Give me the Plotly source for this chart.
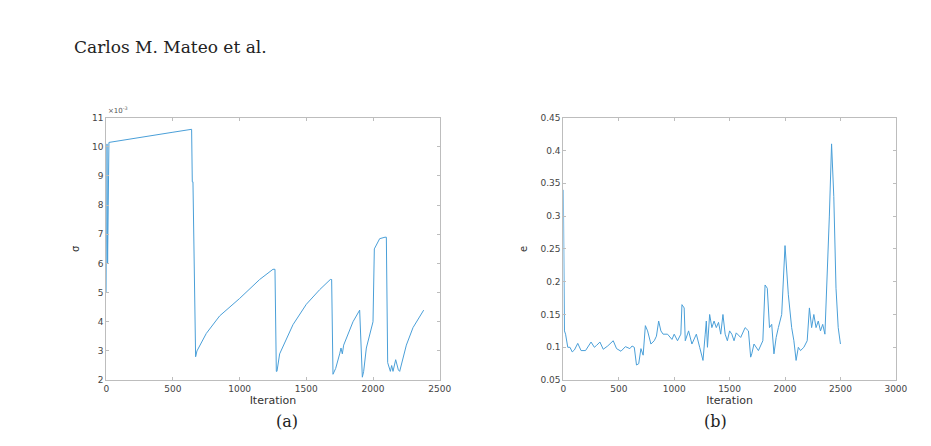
import plotly.graph_objects as go

sigma_iter = [0,5,10,15,20,500,640,645,650,670,680,750,850,1000,1150,1250,1265,1275,1280,1300,1400,1500,1600,1680,1690,1700,1720,1750,1760,1770,1780,1850,1890,1900,1920,1930,1950,2000,2010,2050,2090,2100,2110,2130,2140,2150,2170,2190,2200,2250,2300,2350,2380]
sigma_val = [5,10.1,6,10.1,10.15,10.5,10.6,8.8,8.8,2.8,3.0,3.6,4.2,4.8,5.45,5.8,5.8,2.3,2.3,2.9,3.9,4.6,5.1,5.45,5.45,2.2,2.4,2.9,3.1,2.9,3.2,4.0,4.35,4.4,2.1,2.3,3.1,4.0,6.5,6.85,6.9,6.9,2.6,2.3,2.5,2.3,2.7,2.35,2.3,3.2,3.8,4.2,4.4]

e_iter = [0,5,10,20,40,60,80,100,130,160,200,250,280,300,330,360,400,450,480,520,560,600,620,640,660,680,690,700,720,740,760,790,820,840,860,880,900,940,980,1000,1030,1060,1070,1090,1100,1130,1160,1200,1230,1260,1280,1290,1300,1320,1340,1360,1380,1400,1420,1440,1460,1480,1500,1520,1540,1560,1600,1640,1670,1690,1700,1720,1760,1800,1820,1840,1860,1880,1900,1920,1940,1970,2000,2010,2030,2060,2080,2100,2120,2140,2170,2200,2220,2240,2260,2280,2300,2320,2340,2360,2380,2400,2420,2440,2460,2480,2500]
e_val = [0.34,0.2,0.125,0.12,0.1,0.1,0.093,0.096,0.106,0.095,0.095,0.108,0.1,0.103,0.108,0.097,0.102,0.11,0.098,0.094,0.101,0.098,0.102,0.1,0.073,0.075,0.09,0.098,0.088,0.133,0.125,0.105,0.11,0.117,0.14,0.125,0.12,0.12,0.112,0.12,0.11,0.12,0.165,0.16,0.11,0.125,0.105,0.12,0.1,0.08,0.12,0.14,0.1,0.15,0.13,0.14,0.13,0.138,0.12,0.15,0.12,0.11,0.125,0.12,0.11,0.122,0.115,0.13,0.125,0.085,0.09,0.105,0.095,0.11,0.195,0.19,0.13,0.135,0.09,0.115,0.13,0.15,0.255,0.23,0.18,0.13,0.11,0.08,0.1,0.095,0.1,0.11,0.16,0.13,0.15,0.13,0.14,0.125,0.135,0.12,0.2,0.3,0.41,0.33,0.19,0.13,0.105]

line = dict(color="#4a9fd8", width=1)
fig = go.Figure()
fig.add_trace(go.Scatter(x=sigma_iter, y=sigma_val, mode="lines", line=line, xaxis="x", yaxis="y"))
fig.add_trace(go.Scatter(x=e_iter, y=e_val, mode="lines", line=line, xaxis="x2", yaxis="y2"))

ax = dict(showgrid=False, zeroline=False, showline=True, mirror="ticks", linecolor="#bdbdbd",
          ticks="inside", ticklen=3, tickcolor="#bdbdbd", tickfont=dict(size=9, color="#444"))
fig.update_layout(
    width=931, height=446, margin=dict(l=0, r=0, t=0, b=0), showlegend=False,
    paper_bgcolor="white", plot_bgcolor="white", font=dict(family="DejaVu Sans", color="#333"),
    xaxis=dict(ax, domain=[0.104, 0.468], range=[0, 2500], dtick=500, anchor="y",
               title=dict(text="Iteration", font=dict(size=11), standoff=2)),
    yaxis=dict(ax, domain=[0.158, 0.760], range=[2, 11], dtick=1, anchor="x",
               title=dict(text="σ", font=dict(size=10), standoff=10)),
    xaxis2=dict(ax, domain=[0.603, 0.966], range=[0, 3000], dtick=500, anchor="y2",
                title=dict(text="Iteration", font=dict(size=11), standoff=2)),
    yaxis2=dict(ax, domain=[0.158, 0.760], range=[0.05, 0.45], dtick=0.05, anchor="x2",
                title=dict(text="e", font=dict(size=10), standoff=10)),
    annotations=[
        dict(text="Carlos M. Mateo et al.", x=62/931, y=1-35/446, xref="paper", yref="paper",
             xanchor="left", yanchor="middle", showarrow=False,
             font=dict(family="DejaVu Serif", size=17, color="#222")),
        dict(text="×10<sup>-3</sup>", x=0.104, y=0.762, xref="paper", yref="paper",
             xanchor="left", yanchor="bottom", showarrow=False, font=dict(size=7, color="#555")),
        dict(text="(a)", x=267/931, y=1-430/446, xref="paper", yref="paper", showarrow=False,
             font=dict(family="DejaVu Serif", size=16, color="#222")),
        dict(text="(b)", x=730/931, y=1-430/446, xref="paper", yref="paper", showarrow=False,
             font=dict(family="DejaVu Serif", size=16, color="#222")),
    ],
)
fig.write_html("out.html")
